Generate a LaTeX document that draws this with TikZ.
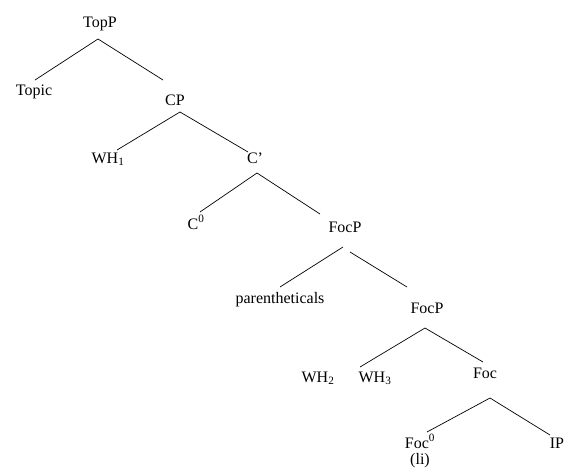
\documentclass[tikz,border=0pt]{standalone}
\usepackage{fontspec}
\setmainfont{Liberation Serif}
\usetikzlibrary{calc}
\begin{document}
\begin{tikzpicture}[x=1pt,y=-1pt,
  lab/.style={anchor=base,inner sep=0pt,font=\fontsize{16}{19}\selectfont},
  edge/.style={line width=0.7pt}]
\useasboundingbox (0,0) rectangle (569,472);
\node[lab] (TopP) at (100,27) {TopP};
\node[lab] (Topic) at (34,95) {Topic};
\node[lab] (CP) at (175,105) {CP};
\node[lab] (WH1) at (108,163) {WH\textsubscript{1}};
\node[lab] (Cbar) at (255,163) {C’};
\node[lab] (C0) at (196,229) {C\textsuperscript{0}};
\node[lab] (FocP) at (345,232) {FocP};
\node[lab] (par) at (280,303) {parentheticals};
\node[lab] (FocP2) at (427,313) {FocP};
\node[lab] (WH2) at (318,382) {WH\textsubscript{2}};
\node[lab] (WH3) at (375,382) {WH\textsubscript{3}};
\node[lab] (Foc) at (485,378) {Foc};
\node[lab] (Foc0) at (420,448) {Foc\textsuperscript{0}};
\node[lab] (li) at (420,464) {(li)};
\node[lab] (IP) at (557,448) {IP};

\draw[edge] ($(TopP.base)+(-2,12)$) -- ($(Topic.base)+(1,-15)$);
\draw[edge] ($(TopP.base)+(-2,12)$) -- ($(CP.base)+(-12,-25)$);
\draw[edge] ($(CP.base)+(5,7)$) -- ($(WH1.base)+(9,-13)$);
\draw[edge] ($(CP.base)+(5,7)$) -- ($(Cbar.base)+(-7,-11)$);
\draw[edge] ($(Cbar.base)+(2,10)$) -- ($(C0.base)+(4,-17)$);
\draw[edge] ($(Cbar.base)+(2,10)$) -- ($(FocP.base)+(-25,-18)$);
\draw[edge] ($(FocP.base)+(-2,15)$) -- ($(par.base)+(0,-16)$);
\draw[edge] ($(FocP.base)+(5,20)$) -- ($(FocP2.base)+(-20,-26)$);
\draw[edge] ($(FocP2.base)+(-2,15)$) -- ($(WH3.base)+(-15,-15)$);
\draw[edge] ($(FocP2.base)+(-2,15)$) -- ($(Foc.base)+(-2,-16)$);
\draw[edge] ($(Foc.base)+(5,20)$) -- ($(Foc0.base)+(7,-16)$);
\draw[edge] ($(Foc.base)+(5,20)$) -- ($(IP.base)+(-7,-13)$);
\end{tikzpicture}
\end{document}
